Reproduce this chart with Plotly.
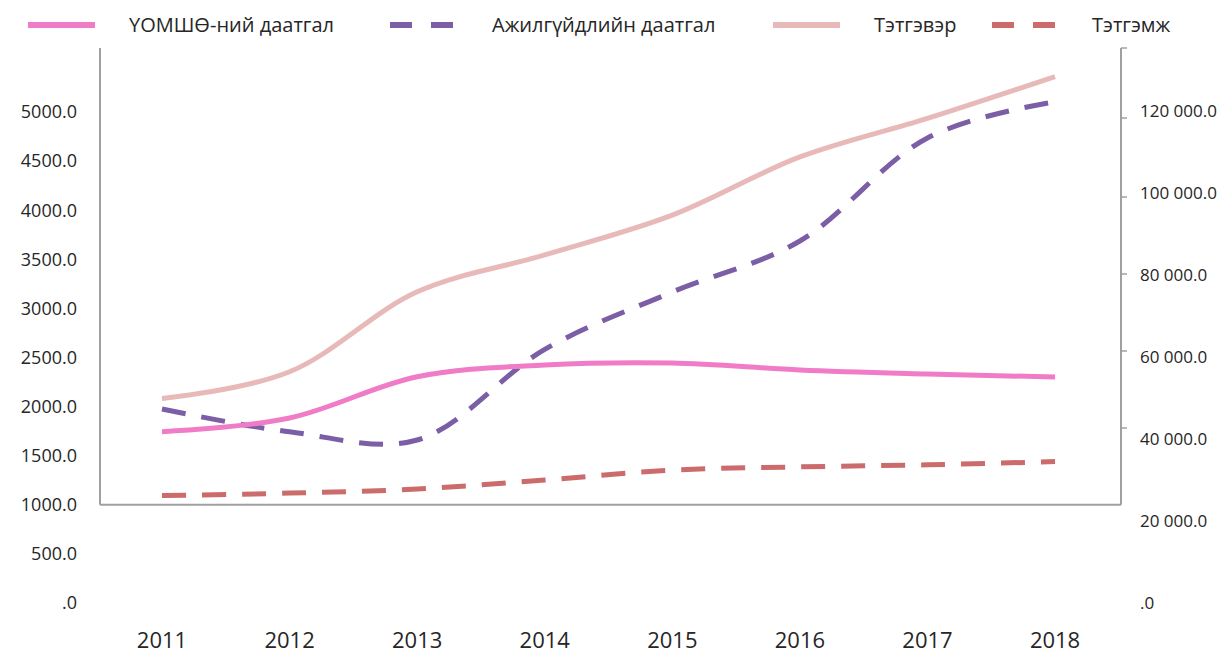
import plotly.graph_objects as go

# ---------------- data ----------------
years = ["2011", "2012", "2013", "2014", "2015", "2016", "2017", "2018"]
uomsho = [1744, 1884, 2304, 2424, 2444, 2373, 2332, 2301]          # ҮОМШӨ-ний даатгал (left axis)
ajilguidel = [1976, 1744, 1660, 2583, 3167, 3686, 4735, 5105]      # Ажилгүйдлийн даатгал (left axis)
tetgever = [49900, 56400, 75900, 84900, 94600, 108800, 118200, 128400]  # Тэтгэвэр (right axis)
tetgemj = [26200, 26800, 27800, 30000, 32400, 33200, 33700, 34500]      # Тэтгэмж (right axis)

left_tickvals = [0, 500, 1000, 1500, 2000, 2500, 3000, 3500, 4000, 4500, 5000]
left_ticktext = [".0", "500.0", "1000.0", "1500.0", "2000.0", "2500.0",
                 "3000.0", "3500.0", "4000.0", "4500.0", "5000.0"]
right_tickvals = [0, 20000, 40000, 60000, 80000, 100000, 120000]
right_ticktext = [".0", "20 000.0", "40 000.0", "60 000.0", "80 000.0",
                  "100 000.0", "120 000.0"]

names = ["ҮОМШӨ-ний даатгал", "Ажилгүйдлийн даатгал", "Тэтгэвэр", "Тэтгэмж"]
colors = ["#F07CC8", "#7B5EA5", "#E8B9B9", "#CC6B6B"]

# ---------------- layout geometry ----------------
OFF = 8                               # default page body margin
W, H = 1227 - 2 * OFF, 653 - OFF
PL, PR, PT, PB = 100, 1121, 48, 603   # plot area in window pixels


def px(x):
    return (x - PL) / (PR - PL)


def py(y):
    return (PB - y) / (PB - PT)


left_top = (PB - PT) / ((PB - 112) / 5000.0)
right_top = (PB - PT) / ((PB - 111) / 120000.0)
xi = list(range(len(years)))
DASH = "24px,16px"
FONT = "Open Sans"
TXT = "#262626"

fig = go.Figure()
fig.add_trace(go.Scatter(x=xi, y=tetgever, name=names[2], yaxis="y2", mode="lines",
                         line=dict(color=colors[2], width=5, shape="spline")))
fig.add_trace(go.Scatter(x=xi, y=tetgemj, name=names[3], yaxis="y2", mode="lines",
                         line=dict(color=colors[3], width=5, shape="spline", dash=DASH)))
fig.add_trace(go.Scatter(x=xi, y=ajilguidel, name=names[1], mode="lines",
                         line=dict(color=colors[1], width=5, shape="spline", dash=DASH)))
fig.add_trace(go.Scatter(x=xi, y=uomsho, name=names[0], mode="lines",
                         line=dict(color=colors[0], width=5, shape="spline")))

shapes = []
axis_col = "#A0A0A0"
# horizontal category-axis line at left value 1000
shapes.append(dict(type="line", xref="paper", yref="y", x0=0, x1=1, y0=1000, y1=1000,
                   line=dict(color=axis_col, width=2)))
# left and right vertical axis lines
for xp in (0, 1):
    shapes.append(dict(type="line", xref="paper", yref="y", x0=xp, x1=xp, y0=1000, y1=left_top,
                       line=dict(color=axis_col, width=2)))
# right axis tick marks
for ty in [48, 118, 197, 274, 351, 428]:
    shapes.append(dict(type="line", xref="paper", yref="paper", x0=1, x1=px(PR + 6),
                       y0=py(ty), y1=py(ty), line=dict(color=axis_col, width=1.5)))

# manual legend
leg_items = [
    (28, 95, 127, None),
    (390, 453, 490, "22px,19px"),
    (773, 840, 872, None),
    (992, 1055, 1090, "22px,19px"),
]
annotations = []
LY = 25
for i, (x0, x1, tx, dash) in enumerate(leg_items):
    ln = dict(color=colors[i], width=6)
    if dash:
        ln["dash"] = dash
    shapes.append(dict(type="line", xref="paper", yref="paper", x0=px(x0), x1=px(x1),
                       y0=py(LY), y1=py(LY), line=ln))
    annotations.append(dict(xref="paper", yref="paper", x=px(tx), y=py(LY), text=names[i],
                            showarrow=False, xanchor="left", yanchor="middle",
                            font=dict(family=FONT, size=20, color=TXT)))

fig.update_layout(
    width=W, height=H,
    margin=dict(l=PL - OFF, r=W - (PR - OFF), t=PT - OFF, b=H - (PB - OFF), pad=0,
                autoexpand=False),
    paper_bgcolor="white", plot_bgcolor="white",
    showlegend=False,
    font=dict(family=FONT, color=TXT),
    xaxis=dict(range=[-0.486, 7.517], tickvals=xi, ticktext=years, showgrid=False,
               zeroline=False, showline=False, ticks="", ticklabelstandoff=22,
               automargin=False,
               tickfont=dict(size=22, color=TXT, family=FONT)),
    yaxis=dict(range=[0, left_top], tickvals=left_tickvals, ticktext=left_ticktext,
               showgrid=False, zeroline=False, showline=False, ticks="",
               ticklabelstandoff=22, automargin=False,
               tickfont=dict(size=18, color=TXT, family=FONT)),
    yaxis2=dict(range=[0, right_top], tickvals=right_tickvals, ticktext=right_ticktext,
                overlaying="y", side="right", showgrid=False, zeroline=False,
                showline=False, ticks="", ticklabelstandoff=18, automargin=False,
                tickfont=dict(size=17, color=TXT, family=FONT)),
    shapes=shapes,
    annotations=annotations,
)

fig.write_html("out.html")
